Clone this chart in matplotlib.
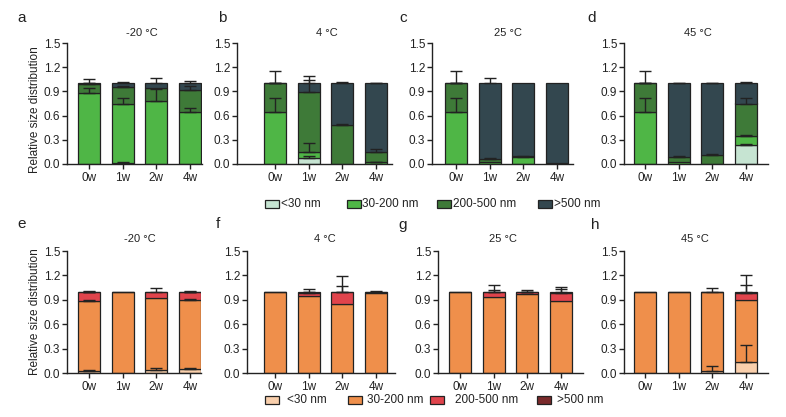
import matplotlib
matplotlib.use("Agg")
from matplotlib import pyplot as plt
from matplotlib.patches import Rectangle
import numpy as np

plt.rcParams['font.family'] = ['Liberation Sans', 'DejaVu Sans']

W, H = 786, 417

weeks = ['0w', '1w', '2w', '4w']
sizes = ['<30 nm', '30-200 nm', '200-500 nm', '>500 nm']
green = ['#c6e4d2', '#4fb646', '#3e7a38', '#33474f']
orange = ['#f9cfac', '#ef8f4b', '#e0444c', '#7a2a2b']

# segment values per week: [<30, 30-200, 200-500, >500]
a_val = [[0, 0.88, 0.11, 0.01], [0.01, 0.74, 0.20, 0.05], [0, 0.78, 0.16, 0.06], [0, 0.65, 0.27, 0.08]]
a_err = [[0, 0.06, 0.01, 0.05], [0.01, 0.07, 0.02, 0.02], [0, 0.15, 0, 0.06], [0, 0.04, 0.05, 0.03]]
b_val = [[0, 0.65, 0.35, 0], [0.07, 0.08, 0.74, 0.11], [0, 0, 0.48, 0.52], [0, 0.02, 0.13, 0.85]]
b_err = [[0, 0.17, 0.15, 0.01], [0.03, 0.11, 0.15, 0.09], [0, 0, 0.02, 0.02], [0, 0.01, 0.03, 0.01]]
c_val = [[0, 0.65, 0.35, 0], [0, 0.03, 0.03, 0.94], [0, 0.09, 0.01, 0.90], [0, 0, 0.01, 0.99]]
c_err = [[0, 0.17, 0.15, 0.01], [0, 0, 0.02, 0.07], [0, 0.01, 0, 0], [0, 0, 0, 0]]
d_val = [[0, 0.65, 0.35, 0], [0, 0.02, 0.07, 0.91], [0, 0, 0.11, 0.89], [0.23, 0.12, 0.40, 0.25]]
d_err = [[0, 0.17, 0.15, 0.01], [0, 0, 0.01, 0.005], [0, 0, 0.02, 0.01], [0.02, 0.01, 0.07, 0.02]]
e_val = [[0.03, 0.86, 0.10, 0.01], [0, 1.0, 0, 0], [0.04, 0.88, 0.07, 0.01], [0.05, 0.85, 0.09, 0.01]]
e_err = [[0.01, 0.01, 0.01, 0.01], [0, 0, 0, 0], [0.02, 0, 0, 0.05], [0.01, 0.01, 0.01, 0.01]]
f_val = [[0, 1.0, 0, 0], [0, 0.95, 0.03, 0.02], [0, 0.85, 0.15, 0], [0, 0.98, 0.01, 0.01]]
f_err = [[0, 0, 0, 0], [0, 0, 0.02, 0.03], [0, 0, 0.07, 0.19], [0, 0, 0, 0.01]]
g_val = [[0, 1.0, 0, 0], [0, 0.93, 0.06, 0.01], [0, 0.97, 0.02, 0.01], [0, 0.89, 0.09, 0.02]]
g_err = [[0, 0, 0, 0], [0, 0, 0.03, 0.08], [0, 0, 0.01, 0.02], [0, 0, 0.05, 0.06]]
h_val = [[0, 1.0, 0, 0], [0, 1.0, 0, 0], [0.03, 0.97, 0, 0], [0.14, 0.76, 0.08, 0.02]]
h_err = [[0, 0, 0, 0], [0, 0, 0, 0], [0.06, 0.05, 0, 0], [0.21, 0, 0.10, 0.21]]

# panel: letter, title, values, errors, colors, axis px, bar0 px, end px, row, title x
panels = [
    ('a', '-20 °C', a_val, a_err, green, 67, 89, 202, 0, 142),
    ('b', '4 °C', b_val, b_err, green, 237, 275, 392, 0, 327),
    ('c', '25 °C', c_val, c_err, green, 432, 456, 573, 0, 508),
    ('d', '45 °C', d_val, d_err, green, 624, 645, 768, 0, 698),
    ('e', '-20 °C', e_val, e_err, orange, 67, 89, 201, 1, 140),
    ('f', '4 °C', f_val, f_err, orange, 247, 275, 395, 1, 325),
    ('g', '25 °C', g_val, g_err, orange, 438, 460, 583, 1, 503),
    ('h', '45 °C', h_val, h_err, orange, 624, 645, 768, 1, 695),
]
letter_pos = {'a': (22, 18), 'b': (222, 18), 'c': (403, 18), 'd': (592, 18),
              'e': (22, 224), 'f': (218, 224), 'g': (403, 225), 'h': (595, 225)}
row_y = [(164, 43, 33), (373, 251, 239)]  # y0 px, y1.5 px, title px

fig = plt.figure(figsize=(W / 100, H / 100), dpi=100)
s = 33.7
x = np.arange(4)
for let, title, vals, errs, cols, ax0, b0, e, row, tx in panels:
    yb, yt, ty = row_y[row]
    ax = fig.add_axes([ax0 / W, 1 - yb / H, (e - ax0) / W, (yb - yt) / H])
    vals = np.array(vals)
    errs = np.array(errs)
    bottom = np.zeros(4)
    for k in range(4):
        ax.bar(x, vals[:, k], 0.65, bottom=bottom, color=cols[k],
               edgecolor='#222222', linewidth=0.9, zorder=2)
        top = bottom + vals[:, k]
        for i in range(4):
            if errs[i, k] > 0:
                ax.errorbar(x[i], top[i], yerr=[[0], [errs[i, k]]], fmt='none',
                            ecolor='#222222', elinewidth=1, capsize=4.5,
                            capthick=1, zorder=3)
        bottom = top
    ax.set_xlim(-(b0 - ax0) / s, (e - b0) / s)
    ax.set_ylim(0, 1.5)
    ax.set_yticks([0, 0.3, 0.6, 0.9, 1.2, 1.5])
    ax.set_yticklabels(['0.0', '0.3', '0.6', '0.9', '1.2', '1.5'])
    ax.set_xticks(x)
    ax.set_xticklabels(weeks)
    ax.tick_params(labelsize=8.5, width=1, length=3.5, color='#222222',
                   labelcolor='#222222', pad=1.5)
    ax.tick_params(axis='x', pad=2.5)
    for sp in ['top', 'right']:
        ax.spines[sp].set_visible(False)
    for sp in ['left', 'bottom']:
        ax.spines[sp].set_linewidth(1)
        ax.spines[sp].set_color('#222222')
    fig.text(tx / W, 1 - ty / H, title, ha='center', va='center', fontsize=8,
             color='#222222')
    lx, ly = letter_pos[let]
    fig.text(lx / W, 1 - ly / H, let, ha='center', va='center', fontsize=11,
             color='#222222')

for yc in (110, 312):
    fig.text(35 / W, 1 - yc / H, 'Relative size distribution', rotation=90,
             ha='center', va='center', fontsize=8.5, color='#222222')

# legends
leg_top = [(265, 281), (347, 362), (437, 453), (538, 554)]
leg_bot = [(265, 287), (348, 367), (430, 455), (537, 557)]
for items, cols, yc in ((leg_top, green, 204), (leg_bot, orange, 400)):
    for (bx, txp), c, lab in zip(items, cols, sizes):
        fig.patches.append(Rectangle((bx / W, 1 - (yc + 4) / H), 14 / W, 8 / H,
                                     transform=fig.transFigure, facecolor=c,
                                     edgecolor='#222222', linewidth=0.9))
        fig.text(txp / W, 1 - yc / H, lab, ha='left', va='center', fontsize=8.5,
                 color='#222222')

fig.savefig('out.png', dpi=100)
